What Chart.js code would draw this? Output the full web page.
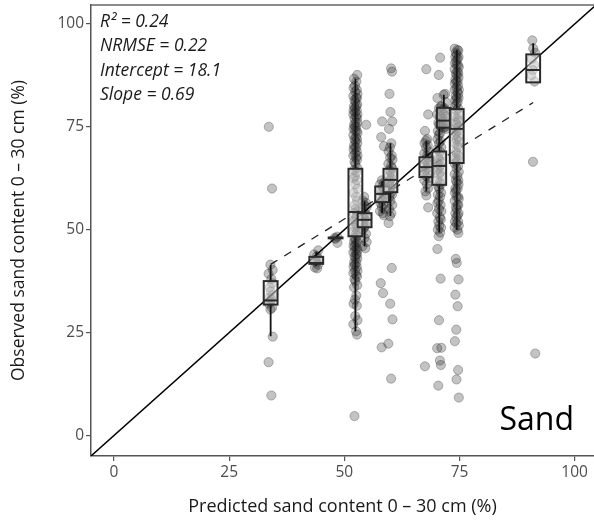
<!DOCTYPE html>
<html>
<head>
<meta charset="utf-8">
<script src="https://cdn.jsdelivr.net/npm/chart.js@4.4.1/dist/chart.umd.min.js"></script>
<style>
  html, body { margin: 0; padding: 0; background: #fff; }
  #wrap { width: 594px; height: 522px; }
</style>
</head>
<body>
<div id="wrap"><canvas id="sandChart"></canvas></div>
<script>
// predicted sand content of each group (x) and observed values (y)
const groupX = [34.0, 43.9, 48.1, 52.4, 54.4, 58.2, 60.0, 67.8, 70.6, 71.6, 74.4, 91.0];

const obsA = [75, 60, 41.5, 40.2, 39.3, 38, 37, 36, 35, 34, 33.5, 33, 32.5, 32, 31, 30.6, 24, 17.8, 9.7];
const obsB = [45, 44, 43.5, 43, 42.5, 42, 41.5, 40.8, 40.6];
const obsC = [48.3, 48, 47.8, 46.8];
const obsD = [87.6, 86.7, 86, 85, 84.5, 84, 83.5, 83, 82.5, 82, 82, 81.5, 81, 80.5, 80, 80, 79.5, 79, 79,
  78.5, 78, 78, 77.5, 77, 77, 76, 76, 75.5, 75, 75, 74.5, 74, 74, 73.5, 73, 72.5, 72, 72, 71.5, 71, 70.5,
  70, 70, 69.5, 69, 68.5, 68, 68, 67.5, 67, 66.5, 66, 65, 64.5, 64, 63, 62.5, 62, 61, 60, 59, 58, 57, 56,
  55, 54.5, 54, 53, 52.5, 52, 51, 50.5, 50, 49.5, 49, 48.5, 48, 47.5, 47, 47, 46.5, 46, 46, 45.5, 45, 45,
  44.5, 44, 44, 43.5, 43, 43, 42, 42, 41.5, 41, 41, 40, 40, 39.5, 39, 38.6, 38, 37.5, 36.5, 36, 34, 33,
  32, 31.5, 29, 28, 27, 25.3, 24.5, 4.7];
const obsE = [58, 57, 56.5, 56, 55.5, 55, 54, 53.5, 53, 52.5, 52, 51.5, 51, 50.5, 50, 49, 48, 47, 46, 45.5, 75.5];
const obsF = [62, 61.5, 61, 60.5, 60, 59.5, 59, 58.5, 58, 57.5, 57, 56.5, 56, 55.5, 55, 54.5, 54, 53.5,
  72.5, 76.3, 70.3, 37, 34.6, 21.4];
const obsG = [89.2, 88.4, 83, 78.6, 76.3, 74.5, 71, 70, 69, 68, 67.5, 67, 66, 65.5, 65, 64.5, 64, 63.5,
  63, 62.5, 62, 61.5, 61, 60.5, 60, 59.5, 59, 58.5, 58, 57, 56, 55, 54, 53.3, 51.6, 40.7, 32, 28.2, 22.3, 13.8];
const obsH = [89, 78, 74, 72, 71.6, 71, 70.5, 70, 69, 68.5, 68, 67.5, 67, 66.5, 66, 65.5, 65, 64.5, 64,
  63.5, 63, 62.5, 62, 61, 60, 59.3, 58.3, 55.4, 16.8];
const obsI = [91.8, 87.6, 82, 80, 79.5, 79, 78, 77.5, 77, 76, 75.5, 75, 74, 73.5, 73, 72, 71.5, 71, 70,
  69.5, 69, 68, 67.5, 67, 66.5, 66, 65.5, 65, 64.5, 64, 63.5, 63, 62, 61.5, 61, 60.5, 60, 59, 58.5, 58,
  57, 56.5, 56, 55, 54.5, 54, 53, 52.5, 52, 51, 50.5, 50, 49.3, 48.4, 45.3, 38.1, 28, 21.3, 21.2, 18.2,
  17.1, 12.1];
const obsJ = [83, 82.8, 81, 80, 79.5, 79, 78.5, 78, 77.5, 77, 76.5, 76, 75.5, 75, 74.8, 74.5];
const obsK = [94, 93.7, 93.5, 93, 92.5, 92, 92, 91.5, 91, 90.5, 90, 90, 89.5, 89, 88.5, 88, 88, 87.5, 87,
  86.5, 86, 86, 85.5, 85, 84.5, 84, 84, 83.5, 83, 82.5, 82, 82, 81.5, 81, 80.5, 80, 79.5, 79, 78, 77.5,
  77, 76.5, 76, 75.5, 75, 74.5, 74, 73.5, 73, 72.5, 72, 71.5, 71, 70.5, 70, 69, 68.5, 68, 67.5, 67, 66.5,
  66, 65.5, 65, 64, 63.5, 63, 62, 62, 61.5, 61, 60, 60, 59.5, 59, 58, 58, 57.5, 57, 56, 56, 55.5, 55, 54,
  54, 53.5, 53, 52, 52, 51.5, 51, 50.5, 50, 49.2, 42.9, 41.9, 37.9, 34.2, 31.4, 25.7, 22.9, 15.9, 13.6, 9.2];
const obsL = [96, 94, 93, 91.5, 90, 88.8, 87.5, 86, 66.5, 19.9];

const groupObs = [obsA, obsB, obsC, obsD, obsE, obsF, obsG, obsH, obsI, obsJ, obsK, obsL];

// horizontal spread of the points inside a column (plot units)
const jitter = [-0.4, 0.3, -0.05, 0.45, -0.45, 0.15, 0.35, -0.2, 0.0, 0.4, -0.3, 0.2, -0.1];

// box statistics per group
const boxLow  = [24.1, 41.2, 48.0, 25.3, 46.0, 54.0, 53.3, 59.3, 49.3, 74.5, 49.9, 85.8];
const boxQ1   = [31.8, 41.7, 47.9, 48.4, 50.6, 56.7, 59.1, 62.8, 60.9, 74.8, 66.2, 85.8];
const boxMed  = [32.8, 41.9, 48.0, 54.3, 52.4, 58.7, 62.1, 65.2, 65.5, 76.5, 74.5, 88.8];
const boxQ3   = [37.5, 43.4, 48.1, 64.8, 54.0, 60.5, 64.8, 67.6, 69.0, 79.6, 79.3, 92.6];
const boxHigh = [41.5, 44.7, 48.0, 86.7, 56.9, 61.8, 71.0, 71.6, 77.0, 82.8, 93.7, 95.3];

const xTicks = [0, 25, 50, 75, 100];
const yTicks = [0, 25, 50, 75, 100];
const statLines = ['R\u00b2 = 0.24', 'NRMSE = 0.22', 'Intercept = 18.1', 'Slope = 0.69'];
const panelLabel = 'Sand';

const fitIntercept = 18.1;
const fitSlope = 0.69;
const fitRange = [34, 91];
const identityRange = [-5, 110];

const FONT = "'Open Sans', 'Noto Sans', sans-serif";

// build the point list
const points = [];
groupObs.forEach(function(vals, g) {
    vals.forEach(function(v, i) {
        points.push({ x: groupX[g] + jitter[(i + g * 3) % jitter.length], y: v });
    });
});

const identityLine = identityRange.map(v => ({ x: v, y: v }));
const fitLine = fitRange.map(v => ({ x: v, y: fitIntercept + fitSlope * v }));

// boxplots, frame and text drawn with the chart scales
const boxPlugin = {
    id: 'boxes',
    afterDatasetsDraw(chart) {
        const ctx = chart.ctx;
        const xs = chart.scales.x;
        const ys = chart.scales.y;
        const area = chart.chartArea;
        const boxWidth = 3.0;

        ctx.save();
        ctx.beginPath();
        ctx.rect(area.left, area.top, area.right - area.left, area.bottom - area.top);
        ctx.clip();
        for (let i = 0; i < groupX.length; i++) {
            const cx = xs.getPixelForValue(groupX[i]);
            const half = (xs.getPixelForValue(groupX[i] + boxWidth / 2) - xs.getPixelForValue(groupX[i] - boxWidth / 2)) / 2;
            const yLo = ys.getPixelForValue(boxLow[i]);
            const yQ1 = ys.getPixelForValue(boxQ1[i]);
            const yMed = ys.getPixelForValue(boxMed[i]);
            const yQ3 = ys.getPixelForValue(boxQ3[i]);
            const yHi = ys.getPixelForValue(boxHigh[i]);

            // whiskers
            ctx.strokeStyle = '#111';
            ctx.lineWidth = 1.8;
            ctx.beginPath();
            ctx.moveTo(cx, yLo);
            ctx.lineTo(cx, yQ1);
            ctx.moveTo(cx, yQ3);
            ctx.lineTo(cx, yHi);
            ctx.stroke();

            // box
            ctx.fillStyle = 'rgba(255,255,255,0.45)';
            ctx.fillRect(cx - half, yQ3, half * 2, yQ1 - yQ3);
            ctx.strokeStyle = '#2a2a2a';
            ctx.lineWidth = 2;
            ctx.strokeRect(cx - half, yQ3, half * 2, yQ1 - yQ3);
            ctx.beginPath();
            ctx.moveTo(cx - half, yMed);
            ctx.lineTo(cx + half, yMed);
            ctx.stroke();
        }
        ctx.restore();

        // top border
        ctx.save();
        ctx.strokeStyle = '#666';
        ctx.lineWidth = 1.5;
        ctx.beginPath();
        ctx.moveTo(area.left, area.top);
        ctx.lineTo(area.right, area.top);
        ctx.stroke();

        // fit statistics
        ctx.fillStyle = '#1a1a1a';
        ctx.font = 'italic 17.5px ' + FONT;
        ctx.textAlign = 'left';
        ctx.textBaseline = 'middle';
        statLines.forEach(function(t, i) {
            ctx.fillText(t, area.left + 9, area.top + 17 + i * 24.5);
        });

        // panel label
        ctx.font = '32px ' + FONT;
        ctx.textAlign = 'right';
        ctx.fillStyle = '#000';
        ctx.fillText(panelLabel, area.right - 20, area.top + 416);
        ctx.restore();
    }
};

const tickStyle = { color: '#4d4d4d', font: { family: FONT, size: 15.5 }, padding: 2 };
const gridStyle = { drawOnChartArea: false, drawTicks: true, tickLength: 5, color: '#555', lineWidth: 1.2 };

new Chart(document.getElementById('sandChart'), {
    type: 'scatter',
    data: {
        datasets: [
            {
                type: 'line',
                data: identityLine,
                borderColor: '#000',
                borderWidth: 1.5,
                pointRadius: 0,
                fill: false
            },
            {
                type: 'line',
                data: fitLine,
                borderColor: '#222',
                borderWidth: 1.3,
                borderDash: [8, 8],
                pointRadius: 0,
                fill: false
            },
            {
                data: points,
                pointRadius: 4.6,
                backgroundColor: 'rgba(40,40,40,0.28)',
                borderColor: 'rgba(40,40,40,0.3)',
                borderWidth: 1
            }
        ]
    },
    options: {
        responsive: true,
        maintainAspectRatio: false,
        animation: false,
        layout: { autoPadding: false, padding: { top: 5, right: 0, left: 0, bottom: 0 } },
        plugins: {
            legend: { display: false },
            tooltip: { enabled: false }
        },
        scales: {
            x: {
                type: 'linear',
                min: -5,
                max: 104.2,
                afterBuildTicks: function(scale) {
                    scale.ticks = xTicks.map(v => ({ value: v }));
                },
                afterFit: function(scale) {
                    scale.height = 66;
                    scale.paddingLeft = 0;
                    scale.paddingRight = 0;
                },
                grid: gridStyle,
                border: { color: '#555', width: 1.5 },
                ticks: tickStyle,
                title: {
                    display: true,
                    text: 'Predicted sand content 0 \u2013 30 cm (%)',
                    color: '#1a1a1a',
                    font: { family: FONT, size: 18 },
                    padding: { top: 0, bottom: 4 }
                }
            },
            y: {
                type: 'linear',
                min: -5,
                max: 104.6,
                afterBuildTicks: function(scale) {
                    scale.ticks = yTicks.map(v => ({ value: v }));
                },
                afterFit: function(scale) {
                    scale.width = 91;
                    scale.paddingTop = 0;
                    scale.paddingBottom = 0;
                },
                grid: gridStyle,
                border: { color: '#555', width: 1.5 },
                ticks: tickStyle,
                title: {
                    display: true,
                    text: 'Observed sand content 0 \u2013 30 cm (%)',
                    color: '#1a1a1a',
                    font: { family: FONT, size: 17.5 },
                    padding: { top: 9, bottom: 0 }
                }
            }
        }
    },
    plugins: [boxPlugin]
});
</script>
</body>
</html>
